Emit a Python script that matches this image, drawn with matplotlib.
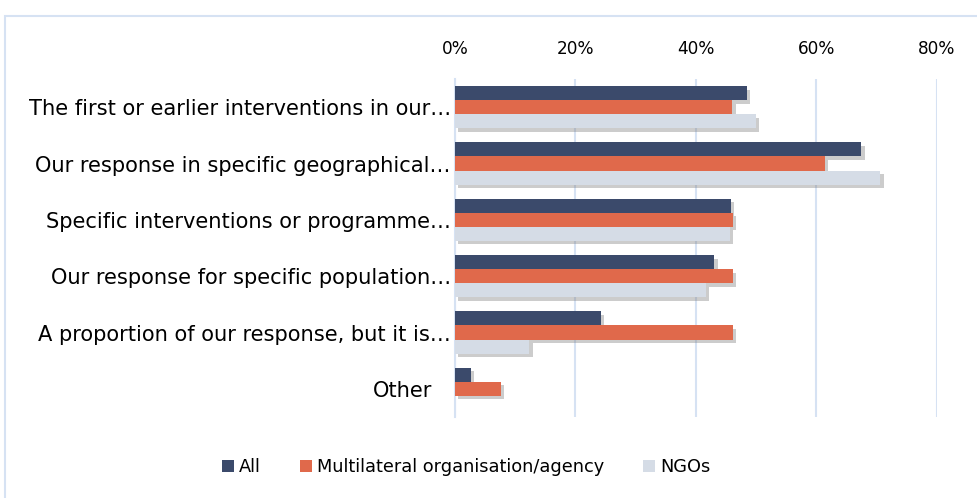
import matplotlib
matplotlib.use("Agg")
import matplotlib.pyplot as plt
import matplotlib.patheffects as pe
import matplotlib.transforms as mtransforms
from matplotlib.patches import Rectangle, Patch
from matplotlib.ticker import PercentFormatter
import numpy as np

categories = [
    "The first or earlier interventions in our…",
    "Our response in specific geographical…",
    "Specific interventions or programme…",
    "Our response for specific population…",
    "A proportion of our response, but it is…",
    "Other",
]
series_names = ["All", "Multilateral organisation/agency", "NGOs"]
all_vals = [48.4, 67.4, 45.8, 43.0, 24.2, 2.6]
multi_vals = [46.0, 61.4, 46.1, 46.1, 46.1, 7.6]
ngo_vals = [49.9, 70.6, 45.6, 41.6, 12.3, 0.0]
colors = ["#3b4a6b", "#e0694b", "#d5dce6"]

plt.rcParams["font.family"] = ["DejaVu Sans"]

fig = plt.figure(figsize=(9.78, 4.98), dpi=100)
ax = fig.add_axes([455 / 978, 1 - 417 / 498, 482 / 978, 338 / 498])

# outer chart frame
fig.patches.append(Rectangle((5 / 978, -0.1), 1.2, 1 - 16 / 498 + 0.1,
                             transform=fig.transFigure, fill=False,
                             edgecolor="#d6e2f3", linewidth=1.5))

y = np.arange(len(categories))
h = 0.25
shadow = [pe.SimplePatchShadow(offset=(2.5, -2.5), shadow_rgbFace="#808080", alpha=0.4), pe.Normal()]
for i, (name, vals) in enumerate(zip(series_names, [all_vals, multi_vals, ngo_vals])):
    bars = ax.barh(y + (i - 1) * h, vals, height=h, color=colors[i], label=name, zorder=3)
    for b in bars:
        b.set_path_effects(shadow)

ax.set_xlim(0, 80)
ax.set_ylim(len(categories) - 0.5, -0.5)
ax.set_xticks([0, 20, 40, 60, 80])
ax.xaxis.set_major_formatter(PercentFormatter(decimals=0))
ax.xaxis.tick_top()
ax.tick_params(axis="x", length=0, pad=15, labelsize=12.2)
ax.set_yticks(y)
ax.set_yticklabels(categories)
ax.tick_params(axis="y", length=0, pad=3, labelsize=15.1)
for lab in ax.get_yticklabels():
    if lab.get_text() == "Other":
        lab.set_transform(lab.get_transform() + mtransforms.ScaledTranslation(-19 / 100, 0, fig.dpi_scale_trans))

ax.grid(axis="x", color="#d6e2f3", linewidth=1.5, zorder=0)
ax.set_axisbelow(True)
for s in ["top", "right", "bottom"]:
    ax.spines[s].set_visible(False)
ax.spines["left"].set_color("#d6e2f3")
ax.spines["left"].set_linewidth(1.5)

handles = [Patch(facecolor=c, edgecolor="none") for c in colors]
fig.legend(handles, series_names, loc="center", bbox_to_anchor=(466 / 978, 1 - 467 / 498), ncol=3,
           frameon=False, fontsize=12.8, handlelength=0.7, handleheight=0.7,
           handletextpad=0.25, columnspacing=2.2)

fig.savefig("out.png", dpi=100)
